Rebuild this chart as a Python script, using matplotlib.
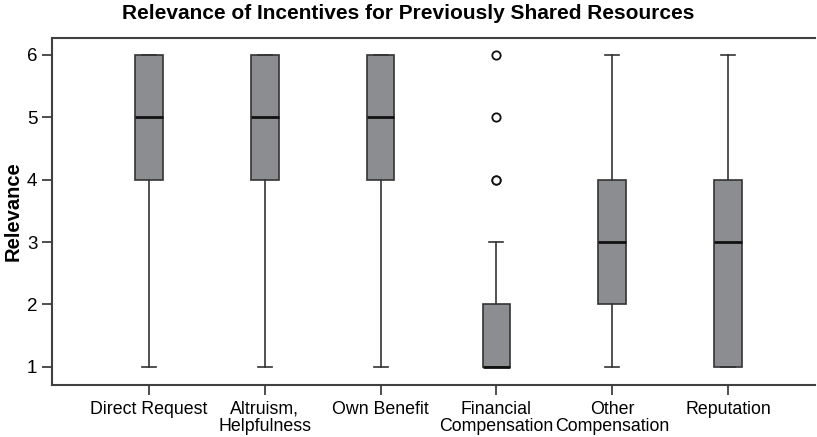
import matplotlib
matplotlib.use("Agg")
import matplotlib.pyplot as plt

plt.rcParams["font.family"] = ["Liberation Sans", "DejaVu Sans"]

# Box statistics
categories = [
    "Direct Request",
    "Altruism,\nHelpfulness",
    "Own Benefit",
    "Financial\nCompensation",
    "Other\nCompensation",
    "Reputation",
]
q1 = [4, 4, 4, 1, 2, 1]
median = [5, 5, 5, 1, 3, 3]
q3 = [6, 6, 6, 2, 4, 4]
whisker_low = [1, 1, 1, 1, 1, 1]
whisker_high = [6, 6, 6, 3, 6, 6]
outliers = [[], [], [], [4, 4, 5, 6], [], []]

stats = []
for i, name in enumerate(categories):
    stats.append(
        {
            "label": name,
            "q1": q1[i],
            "med": median[i],
            "q3": q3[i],
            "whislo": whisker_low[i],
            "whishi": whisker_high[i],
            "fliers": outliers[i],
        }
    )

fig = plt.figure(figsize=(8.17, 4.37), dpi=100)
ax = fig.add_axes([0.0636, 0.119, 0.934, 0.794])

edge = "#333333"
ax.bxp(
    stats,
    positions=range(1, len(categories) + 1),
    widths=0.24,
    patch_artist=True,
    showfliers=True,
    boxprops=dict(facecolor="#8c8d90", edgecolor=edge, linewidth=1.2),
    medianprops=dict(color="#111111", linewidth=2.0),
    whiskerprops=dict(color=edge, linewidth=1.2),
    capprops=dict(color=edge, linewidth=1.2),
    capwidths=0.12,
    flierprops=dict(
        marker="o",
        markersize=6,
        markerfacecolor="white",
        markeredgecolor="#111111",
        markeredgewidth=1.3,
    ),
)

ax.set_xlim(0.164, 6.75)
ax.set_ylim(0.71, 6.27)
ax.set_yticks([1, 2, 3, 4, 5, 6])
ax.set_xticklabels(categories, fontsize=12.8, linespacing=1.0)
ax.tick_params(axis="y", labelsize=13.5, length=7, width=1.3, color="#404040")
ax.tick_params(axis="x", length=7, width=1.3, color="#404040", pad=4.5)

for side in ["left", "bottom", "top"]:
    ax.spines[side].set_color("#404040")
    ax.spines[side].set_linewidth(1.5)
ax.spines["right"].set_visible(False)

ax.set_ylabel("Relevance", fontsize=14.5, fontweight="bold", labelpad=3)
fig.suptitle(
    "Relevance of Incentives for Previously Shared Resources",
    fontsize=15,
    fontweight="bold",
    y=0.99,
)

fig.savefig("out.png", dpi=100)
